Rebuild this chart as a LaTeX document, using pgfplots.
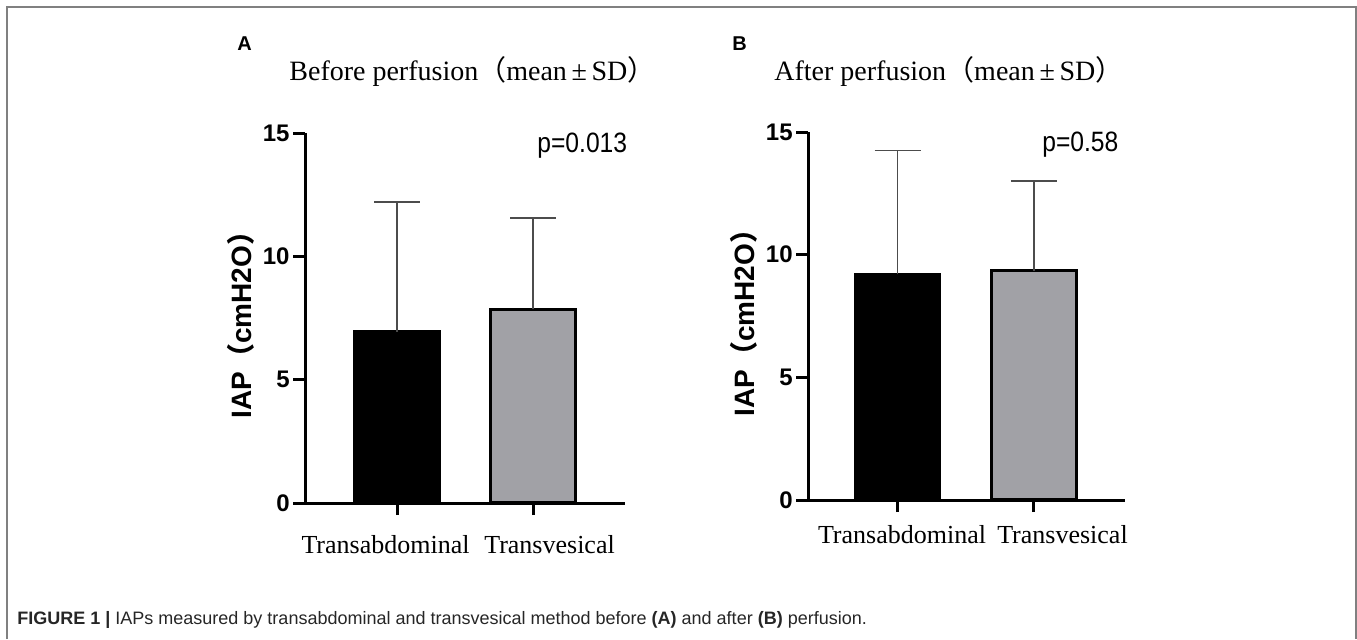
\documentclass[border=0pt]{standalone}
\usepackage{fontspec}
\setmainfont{Liberation Serif}
\setsansfont{Liberation Sans}
\newfontfamily\cjk{Noto Sans CJK SC}
\newfontfamily\narrowsans[FakeStretch=0.88]{Liberation Sans}
\usepackage{pgfplots}
\pgfplotsset{compat=1.18}
\definecolor{bargray}{RGB}{161,161,166}
\definecolor{framegray}{RGB}{128,128,128}

\pgfplotsset{
  iap/.style={
    scale only axis, anchor=south west, clip=false, axis on top,
    ybar,
    axis x line=bottom, axis y line=left,
    axis line style={-, line width=1.5pt, black},
    ymin=0, ymax=15, ytick={0,5,10,15}, minor tick num=0,
    xtick={1,2},
    tick align=outside, major tick length=6pt,
    tick style={line width=1.5pt, black},
    yticklabel style={font=\sffamily\bfseries\fontsize{12}{12}\selectfont, inner xsep=1.5pt,
      /pgf/number format/assume math mode=true},
    xticklabel style={font=\fontsize{13}{15}\selectfont, anchor=base},
    ylabel={\sffamily\bfseries\fontsize{14}{16}\selectfont IAP{\cjk （}cmH2O{\cjk ）}},
    ylabel style={at={(axis description cs:0,0.5)}, anchor=center, yshift=32pt},
    title style={at={(axis description cs:0,1)}, anchor=base west, inner sep=0pt,
      font=\fontsize{14}{16}\selectfont},
  },
  blackbar/.style={fill=black, draw=black, line width=1.6pt, bar width=42.25pt, bar shift=0pt,
    error bars/.cd, y dir=plus, y explicit,
    error bar style={line width=0.8pt, black!70},
    error mark options={rotate=90, mark size=11.5pt, line width=0.8pt, black!70}},
  graybar/.style={fill=bargray, draw=black, line width=1.6pt, bar width=42.25pt, bar shift=0pt,
    error bars/.cd, y dir=plus, y explicit,
    error bar style={line width=0.8pt, black!70},
    error mark options={rotate=90, mark size=11.5pt, line width=0.8pt, black!70}},
}

\begin{document}
\begin{tikzpicture}
\path[use as bounding box] (0,0) rectangle (678.5pt,-319.5pt);
\draw[framegray, line width=1pt] (3.5pt,-319.5pt) -- (3.5pt,-3.5pt) -- (677.75pt,-3.5pt) -- (677.75pt,-319.5pt);

% panel A: before perfusion
\begin{axis}[iap,
  at={(152.5pt,-251.5pt)}, width=160pt, height=185pt,
  xmin=0.3235, xmax=2.676,
  xticklabels={\makebox[0pt]{\hspace*{-11.5pt}Transabdominal}, \makebox[0pt]{\hspace*{16.5pt}Transvesical}},
  xticklabel style={yshift=-19pt},
  title={Before perfusion{\cjk （}mean\,±\,SD{\cjk ）}},
  title style={xshift=-8pt, yshift=20.5pt},
]
\addplot[blackbar] coordinates {(1,6.95) +- (0,5.25)};
\addplot[graybar] coordinates {(2,7.85) +- (0,3.70)};
\node[anchor=base west, inner sep=0, font=\narrowsans\fontsize{14}{14}\selectfont]
  at (axis description cs:0.725,0.9486) {p=0.013};
\node[anchor=base west, inner sep=0, font=\sffamily\bfseries\fontsize{10}{10}\selectfont]
  at (axis description cs:0,1) [xshift=-34pt, yshift=41.5pt] {A};
\end{axis}

% panel B: after perfusion
\begin{axis}[iap,
  at={(404pt,-250pt)}, width=158.5pt, height=184pt,
  xmin=0.344, xmax=2.667,
  xticklabels={\makebox[0pt]{\hspace*{4.5pt}Transabdominal}, \makebox[0pt]{\hspace*{28.5pt}Transvesical}},
  xticklabel style={yshift=-15.5pt},
  title={After perfusion{\cjk （}mean\,±\,SD{\cjk ）}},
  title style={xshift=-17pt, yshift=20pt},
]
\addplot[blackbar] coordinates {(1,9.20) +- (0,5.05)};
\addplot[graybar] coordinates {(2,9.35) +- (0,3.65)};
\node[anchor=base west, inner sep=0, font=\narrowsans\fontsize{14}{14}\selectfont]
  at (axis description cs:0.738,0.9457) {p=0.58};
\node[anchor=base west, inner sep=0, font=\sffamily\bfseries\fontsize{10}{10}\selectfont]
  at (axis description cs:0,1) [xshift=-38pt, yshift=41pt] {B};
\end{axis}

\node[anchor=base west, inner sep=0, text=black!85, font=\sffamily\fontsize{9}{11}\selectfont]
  at (8.5pt,-312pt) {\textbf{FIGURE 1 |} IAPs measured by transabdominal and transvesical method before \textbf{(A)} and after \textbf{(B)} perfusion.};
\end{tikzpicture}
\end{document}
